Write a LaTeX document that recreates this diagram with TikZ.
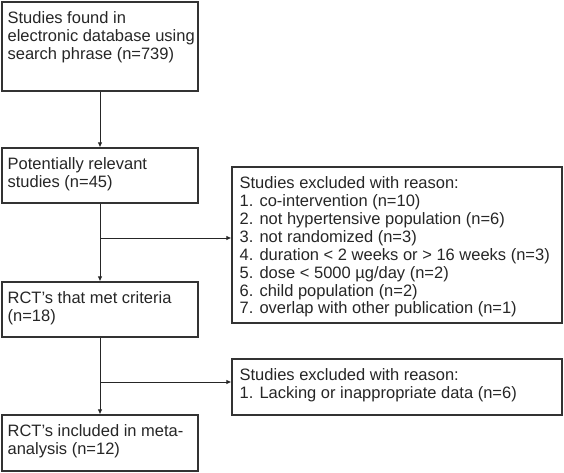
\documentclass[tikz,border=0pt]{standalone}
\usepackage{fontspec}
\setmainfont{Liberation Sans}
\usetikzlibrary{arrows.meta,calc}
\begin{document}
\begin{tikzpicture}[x=1pt,y=-1pt,
  box/.style={draw=black!80,line width=1.1pt,inner sep=0pt,rectangle},
  txt/.style={anchor=north west,inner sep=0pt,align=left,text=black!85,
    font=\fontsize{16.5}{17.9}\selectfont},
  conn/.style={draw=black!85,line width=1pt},
  arr/.style={conn,-{Latex[length=5pt,width=4.5pt]}}]
\useasboundingbox (0,0) rectangle (564,473);
\node[box,minimum width=196pt,minimum height=89pt] (b1) at (100,46.5) {};
\node[box,minimum width=196pt,minimum height=55pt] (b2) at (100,175.5) {};
\node[box,minimum width=196pt,minimum height=55pt] (b3) at (100,309.5) {};
\node[box,minimum width=196pt,minimum height=56pt] (b4) at (100,443) {};
\node[box,minimum width=330pt,minimum height=156pt] (e1) at (397,245) {};
\node[box,minimum width=330pt,minimum height=56pt] (e2) at (397,387) {};
\node[txt] (t1) at ($(b1.north west)+(6,10)$) {Studies found in\\electronic database using\\search phrase (n=739)};
\node[txt] (t2) at ($(b2.north west)+(6,10)$) {Potentially relevant\\studies (n=45)};
\node[txt] (t3) at ($(b3.north west)+(6,10)$) {RCT’s that met criteria\\(n=18)};
\node[txt] (t4) at ($(b4.north west)+(6,10)$) {RCT’s included in meta-\\analysis (n=12)};
\node[txt] (t5) at ($(e1.north west)+(8,10)$) {Studies excluded with reason:\\1. co-intervention (n=10)\\2. not hypertensive population (n=6)\\3. not randomized (n=3)\\4. duration < 2 weeks or > 16 weeks (n=3)\\5. dose < 5000 µg/day (n=2)\\6. child population (n=2)\\7. overlap with other publication (n=1)};
\node[txt] (t6) at ($(e2.north west)+(8,10)$) {Studies excluded with reason:\\1. Lacking or inappropriate data (n=6)};
\coordinate (j1) at (100,238);
\coordinate (j2) at (100,382);
\draw[arr] (b1.south) -- (b2.north);
\draw[arr] (b2.south) -- (b3.north);
\draw[arr] (b3.south) -- (b4.north);
\draw[arr] (j1) -- (j1 -| e1.west);
\draw[arr] (j2) -- (j2 -| e2.west);
\end{tikzpicture}
\end{document}
